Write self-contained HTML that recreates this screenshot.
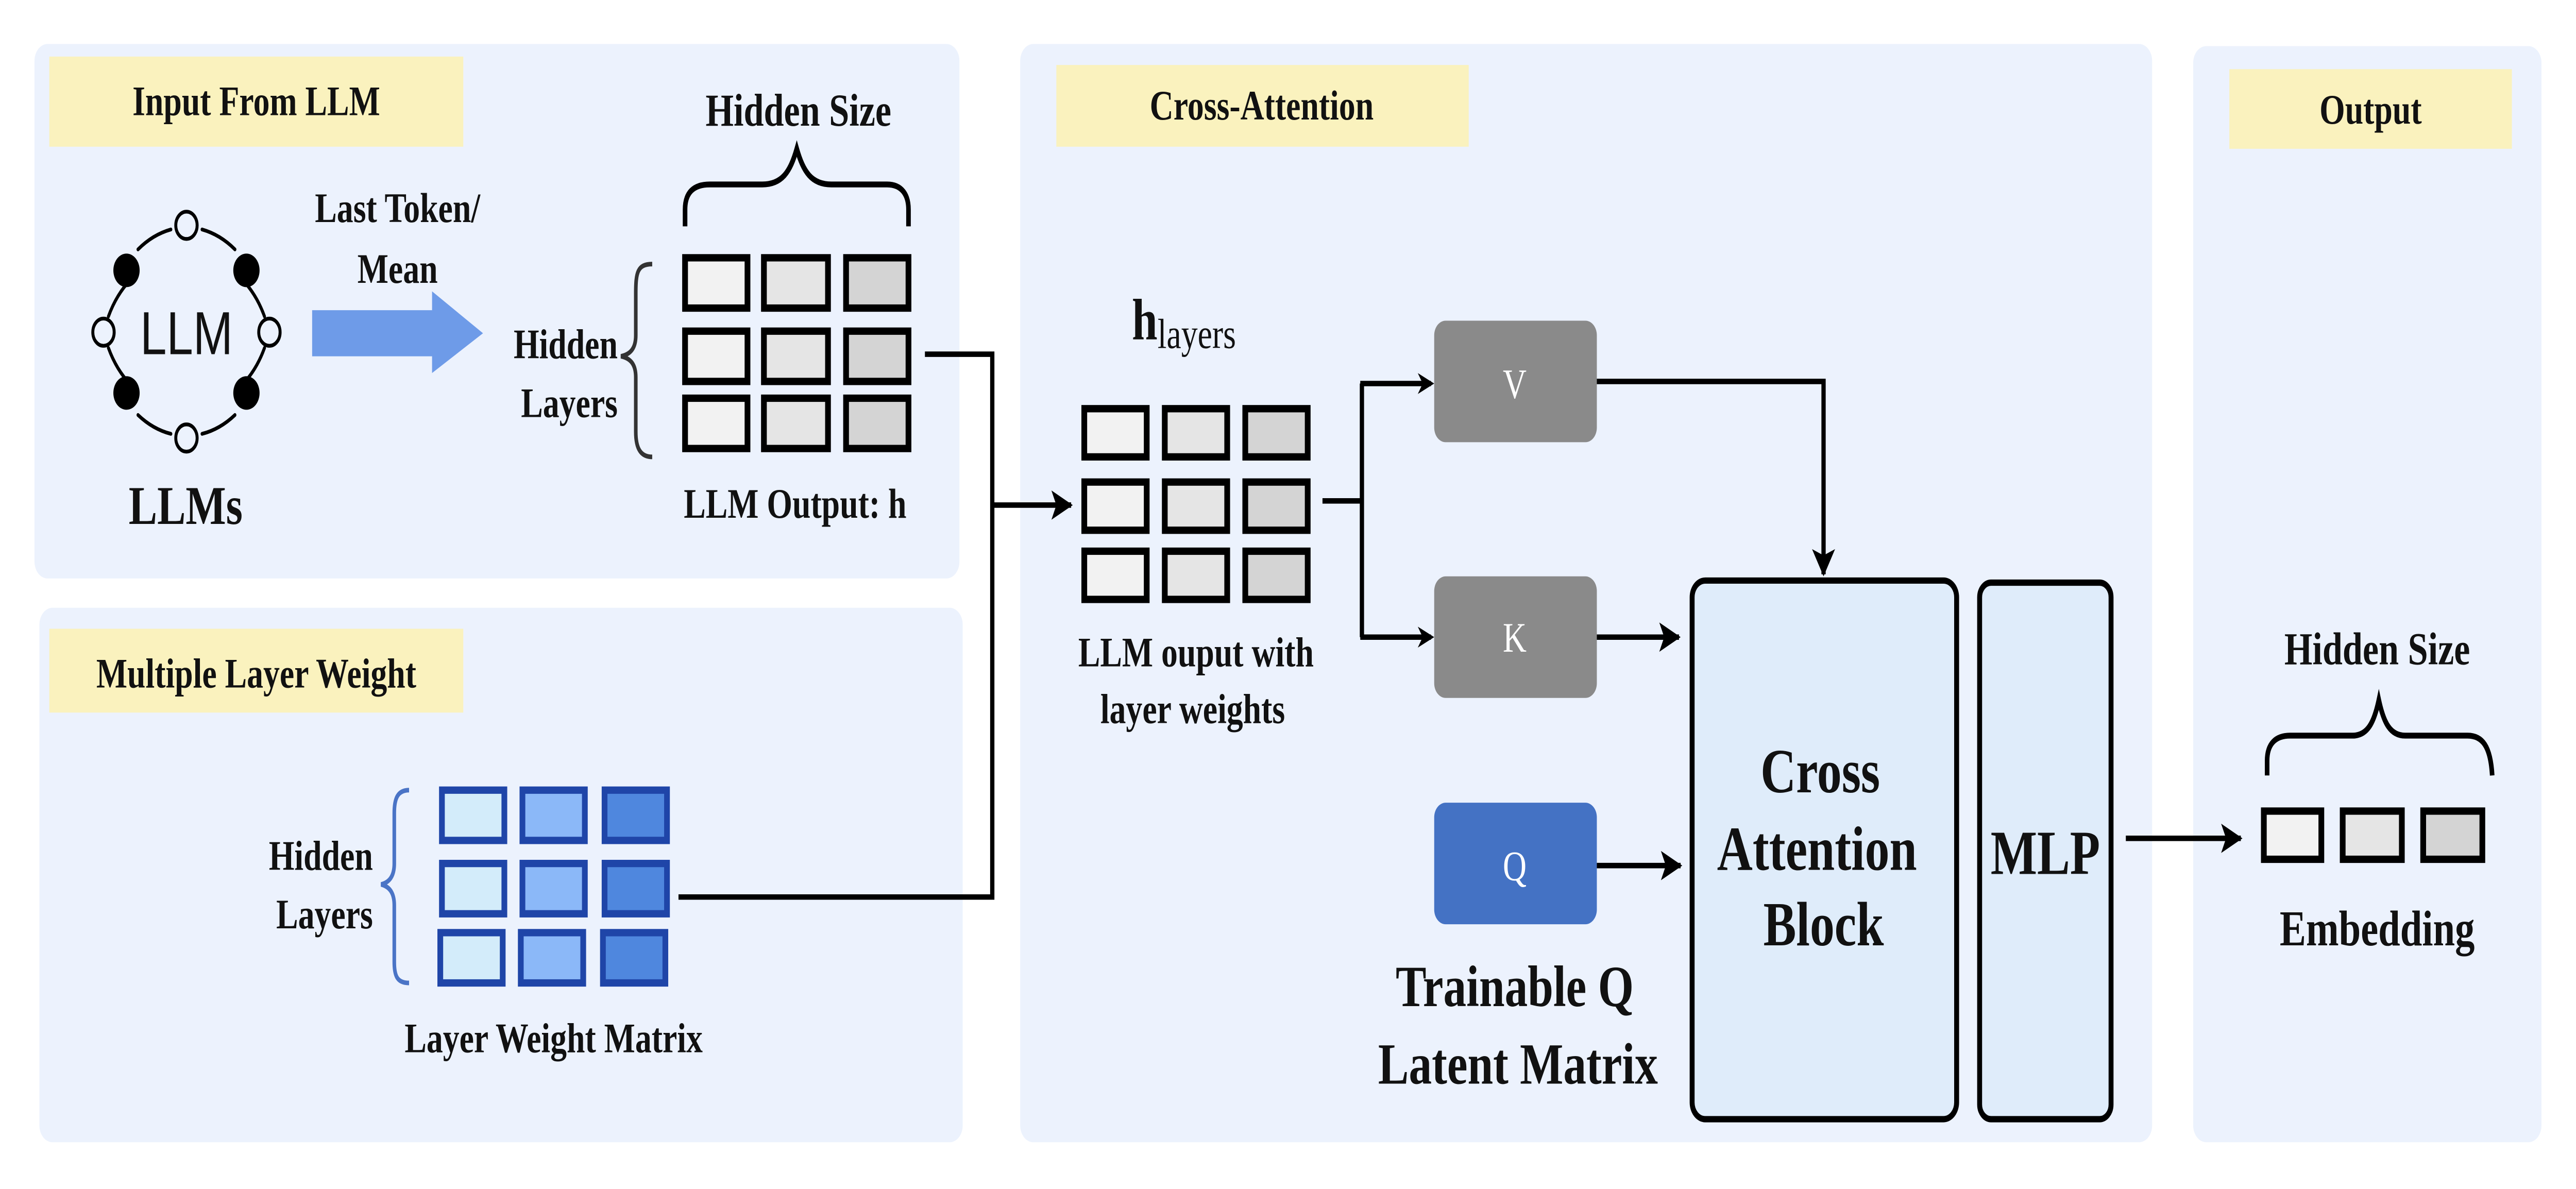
<!DOCTYPE html>
<html><head><meta charset="utf-8"><style>html,body{margin:0;padding:0;background:#fff;width:100%;height:100%;overflow:hidden}
svg{display:block;position:fixed;left:0;top:0;width:100vw;height:100vh}
text{font-family:"Liberation Serif",serif;fill:#111}</style></head><body>
<svg viewBox="0 0 6379 2308" preserveAspectRatio="none" xmlns="http://www.w3.org/2000/svg">
<defs>
<marker id="ah" markerWidth="10" markerHeight="10" refX="8" refY="5" orient="auto" markerUnits="userSpaceOnUse"><path d="M0,0 L10,5 L0,10 L3,5 Z" fill="#000"/></marker>
<marker id="ah2" markerWidth="14" markerHeight="14" refX="12" refY="7" orient="auto" markerUnits="userSpaceOnUse"><path d="M0,0 L13,7 L0,14 L3,7 Z" fill="#000"/></marker>
</defs>
<rect width="6379" height="2308" fill="#fff"/>
<g transform="scale(4.0682 4.0683)">
<rect x="21" y="21" width="563" height="255" rx="8" fill="#ECF2FD"/>
<rect x="24" y="290" width="562" height="255" rx="8" fill="#ECF2FD"/>
<rect x="621" y="21" width="689" height="524" rx="8" fill="#ECF2FD"/>
<rect x="1335" y="22" width="212" height="523" rx="8" fill="#ECF2FD"/>
<rect x="30" y="27" width="252" height="43" fill="#FAF2BE"/>
<text x="156" y="55" font-size="20" font-weight="bold" text-anchor="middle">Input From LLM</text>
<rect x="30" y="300" width="252" height="40" fill="#FAF2BE"/>
<text x="156" y="328" font-size="20" font-weight="bold" text-anchor="middle">Multiple Layer Weight</text>
<rect x="643" y="31" width="251" height="39" fill="#FAF2BE"/>
<text x="768" y="57" font-size="20" font-weight="bold" text-anchor="middle">Cross-Attention</text>
<rect x="1357" y="33" width="172" height="38" fill="#FAF2BE"/>
<text x="1443" y="59" font-size="20" font-weight="bold" text-anchor="middle">Output</text>

<g stroke="#000" stroke-width="1.8" fill="none" stroke-linecap="round">
<path d="M84,119 A50,50 0 0 1 104,109.5"/><path d="M123,109.5 A50,50 0 0 1 143,119"/>
<path d="M147,133 A50,50 0 0 1 161,151"/><path d="M66,151 A50,50 0 0 1 80,133"/>
<path d="M161,166 A50,50 0 0 1 147,184"/><path d="M80,184 A50,50 0 0 1 66,166"/>
<path d="M104,207 A50,50 0 0 1 84,198"/><path d="M143,198 A50,50 0 0 1 123,207"/>
</g>
<g fill="#000"><circle cx="77" cy="129" r="8"/><circle cx="150" cy="129" r="8"/><circle cx="77" cy="187.5" r="8"/><circle cx="150" cy="187.5" r="8"/></g>
<g fill="#ECF2FD" stroke="#000" stroke-width="1.8"><circle cx="113.5" cy="107.5" r="6.5"/><circle cx="113.5" cy="209" r="6.5"/><circle cx="63" cy="158.5" r="6.5"/><circle cx="164" cy="158.5" r="6.5"/></g>
<text x="113.5" y="169" font-size="29" text-anchor="middle" style="font-family:'Liberation Sans',sans-serif">LLM</text>
<text x="113" y="250" font-size="26" font-weight="bold" text-anchor="middle">LLMs</text>

<path d="M190,148 L263,148 L263,139 L294,159 L263,178 L263,170 L190,170 Z" fill="#6E9BE8"/>
<text x="242" y="106" font-size="20" font-weight="bold" text-anchor="middle">Last Token/</text>
<text x="242" y="135" font-size="20" font-weight="bold" text-anchor="middle">Mean</text>
<text x="376" y="171" font-size="20" font-weight="bold" text-anchor="end">Hidden</text>
<text x="376" y="199" font-size="20" font-weight="bold" text-anchor="end">Layers</text>
<path d="M397,126 C388,126 387,130 387,140 L387,160 C387,166 384,169 378,170 C384,171 387,174 387,180 L387,206 C387,214 390,218 397,218" fill="none" stroke="#333" stroke-width="2.2"/>

<g stroke="#000" stroke-width="3.5">
<rect x="417" y="123" width="38" height="24" fill="#F2F2F2"/><rect x="465" y="123" width="39" height="24" fill="#E5E5E5"/><rect x="515" y="123" width="38" height="24" fill="#D4D4D4"/>
<rect x="417" y="158" width="38" height="24" fill="#F2F2F2"/><rect x="465" y="158" width="39" height="24" fill="#E5E5E5"/><rect x="515" y="158" width="38" height="24" fill="#D4D4D4"/>
<rect x="417" y="190" width="38" height="24" fill="#F2F2F2"/><rect x="465" y="190" width="39" height="24" fill="#E5E5E5"/><rect x="515" y="190" width="38" height="24" fill="#D4D4D4"/>
</g>
<path d="M417,108 L417,100 C417,92 422,88 432,88 L464,88 C476,88 481,82 485,71 C489,82 494,88 506,88 L540,88 C549,88 553,93 553,100 L553,108" fill="none" stroke="#000" stroke-width="2.8"/>
<text x="486" y="60" font-size="22" font-weight="bold" text-anchor="middle">Hidden Size</text>
<text x="484" y="247" font-size="20" font-weight="bold" text-anchor="middle">LLM Output: h</text>

<g stroke="#1F45A8" stroke-width="3.5">
<rect x="269" y="377" width="38" height="24" fill="#D3ECFA"/><rect x="318" y="377" width="38" height="24" fill="#8BB8F8"/><rect x="368" y="377" width="38" height="24" fill="#4F87DE"/>
<rect x="269" y="412" width="38" height="24" fill="#D3ECFA"/><rect x="318" y="412" width="38" height="24" fill="#8BB8F8"/><rect x="368" y="412" width="38" height="24" fill="#4F87DE"/>
<rect x="268" y="445" width="38" height="24" fill="#D3ECFA"/><rect x="317" y="445" width="38" height="24" fill="#8BB8F8"/><rect x="367" y="445" width="38" height="24" fill="#4F87DE"/>
</g>
<path d="M249,377 C242,377 240,381 240,388 L240,412 C240,418 237,421 232,422 C237,423 240,426 240,432 L240,459 C240,466 242,469 249,469" fill="none" stroke="#4A74C6" stroke-width="2.2"/>
<text x="227" y="415" font-size="20" font-weight="bold" text-anchor="end">Hidden</text>
<text x="227" y="443" font-size="20" font-weight="bold" text-anchor="end">Layers</text>
<text x="337" y="502" font-size="20" font-weight="bold" text-anchor="middle">Layer Weight Matrix</text>

<path d="M563,169 L604,169 L604,428 L413,428" fill="none" stroke="#000" stroke-width="2.6"/>
<path d="M604,241 L652,241" fill="none" stroke="#000" stroke-width="2.6" marker-end="url(#ah2)"/>

<g stroke="#000" stroke-width="3.5">
<rect x="660" y="195" width="38" height="23" fill="#F2F2F2"/><rect x="709" y="195" width="38" height="23" fill="#E5E5E5"/><rect x="758" y="195" width="38" height="23" fill="#D4D4D4"/>
<rect x="660" y="230" width="38" height="23" fill="#F2F2F2"/><rect x="709" y="230" width="38" height="23" fill="#E5E5E5"/><rect x="758" y="230" width="38" height="23" fill="#D4D4D4"/>
<rect x="660" y="263" width="38" height="23" fill="#F2F2F2"/><rect x="709" y="263" width="38" height="23" fill="#E5E5E5"/><rect x="758" y="263" width="38" height="23" fill="#D4D4D4"/>
</g>
<text x="689" y="162" font-size="28" font-weight="bold">h<tspan font-size="20" font-weight="normal" dy="4">layers</tspan></text>
<text x="728" y="318" font-size="20" font-weight="bold" text-anchor="middle">LLM ouput with</text>
<text x="726" y="345" font-size="20" font-weight="bold" text-anchor="middle">layer weights</text>
<path d="M805,239 L829,239 M829,183 L829,304" fill="none" stroke="#000" stroke-width="2.6"/>
<path d="M828,183 L871,183" stroke="#000" stroke-width="2.6" marker-end="url(#ah)"/>
<path d="M828,304 L871,304" stroke="#000" stroke-width="2.6" marker-end="url(#ah)"/>

<rect x="873" y="153" width="99" height="58" rx="7" fill="#8A8A8A"/>
<text x="922" y="190" font-size="20" text-anchor="middle" style="fill:#fff">V</text>
<rect x="873" y="275" width="99" height="58" rx="7" fill="#8A8A8A"/>
<text x="922" y="311" font-size="20" text-anchor="middle" style="fill:#fff">K</text>
<rect x="873" y="383" width="99" height="58" rx="7" fill="#4472C4"/>
<text x="922" y="420" font-size="20" text-anchor="middle" style="fill:#fff">Q</text>
<text x="922" y="480" font-size="28" font-weight="bold" text-anchor="middle">Trainable Q</text>
<text x="924" y="517" font-size="28" font-weight="bold" text-anchor="middle">Latent Matrix</text>

<path d="M972,182 L1110,182 L1110,274" fill="none" stroke="#000" stroke-width="2.6" marker-end="url(#ah2)"/>
<path d="M972,304 L1022,304" stroke="#000" stroke-width="2.6" marker-end="url(#ah2)"/>
<path d="M972,413 L1023,413" stroke="#000" stroke-width="2.6" marker-end="url(#ah2)"/>

<rect x="1030" y="277" width="161" height="257" rx="8" fill="#DFECFA" stroke="#000" stroke-width="3"/>
<text x="1108" y="378" font-size="30" font-weight="bold" text-anchor="middle">Cross</text>
<text x="1106" y="415" font-size="30" font-weight="bold" text-anchor="middle">Attention</text>
<text x="1110" y="451" font-size="30" font-weight="bold" text-anchor="middle">Block</text>
<rect x="1205" y="278" width="80" height="256" rx="7" fill="#DFECFA" stroke="#000" stroke-width="3"/>
<text x="1245" y="417" font-size="30" font-weight="bold" text-anchor="middle">MLP</text>

<path d="M1294,400 L1364,400" stroke="#000" stroke-width="2.6" marker-end="url(#ah2)"/>

<g stroke="#000" stroke-width="3.5">
<rect x="1378" y="387" width="35" height="23" fill="#F2F2F2"/><rect x="1426" y="387" width="36" height="23" fill="#E5E5E5"/><rect x="1475" y="387" width="36" height="23" fill="#D4D4D4"/>
</g>
<path d="M1380,370 L1380,363 C1380,355 1385,351 1394,351 L1432,351 C1441,351 1445,345 1448,334 C1451,345 1455,351 1464,351 L1502,351 C1511,351 1516,356 1517,370" fill="none" stroke="#000" stroke-width="2.8"/>
<text x="1447" y="317" font-size="22" font-weight="bold" text-anchor="middle">Hidden Size</text>
<text x="1447" y="451" font-size="24" font-weight="bold" text-anchor="middle">Embedding</text>
</g>
</svg>
</body></html>
